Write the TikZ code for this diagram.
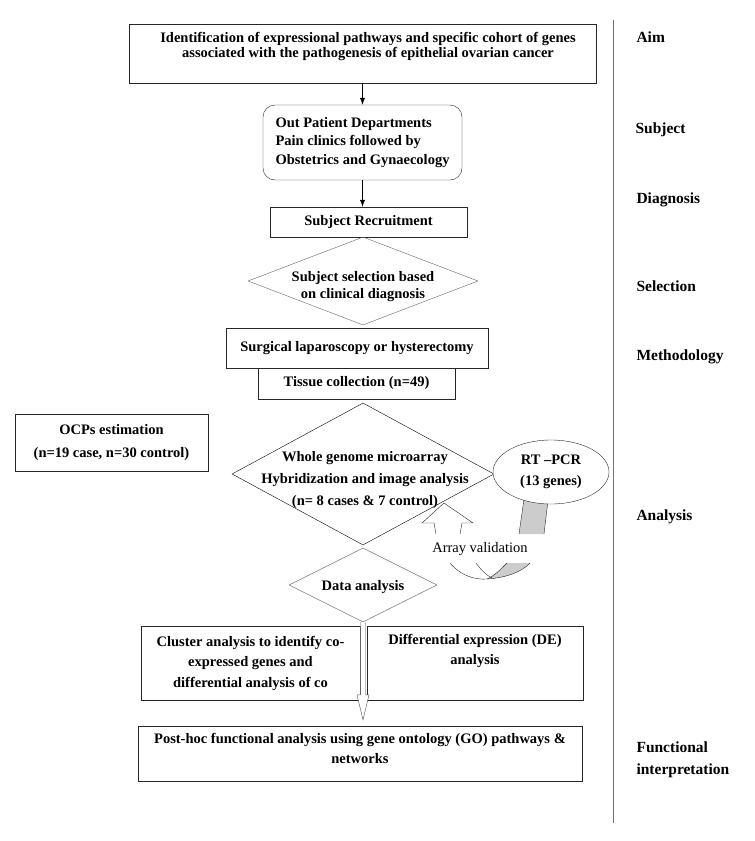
\documentclass[tikz,border=0pt]{standalone}
\usepackage{fontspec}
\setmainfont{Liberation Serif}
\usetikzlibrary{arrows.meta,shapes.geometric,calc,backgrounds}

\begin{document}
\begin{tikzpicture}[x=1pt,y=-1pt,
  every node/.style={font=\fontsize{14.5}{18}\selectfont\bfseries},
  box/.style={draw=black!85,rectangle,inner sep=0pt},
  dia/.style={draw,diamond,inner sep=0pt},
  lbl/.style={anchor=west,align=left,font=\fontsize{15.5}{21.5}\selectfont\bfseries},
  arr/.style={-{Latex[length=7pt,width=5pt]},thin}]
\useasboundingbox (0,0) rectangle (755,841);
% flow column
\node[box,minimum width=467pt,minimum height=59pt] (aim) at (362.5,53.5) {};
\node[align=center,font=\fontsize{14.5}{15.5}\selectfont\bfseries] (aimtxt) at (368,46.5)
  {Identification of expressional pathways and specific cohort of genes\\associated with the pathogenesis of epithelial ovarian cancer};
\node[box,rounded corners=12pt,minimum width=199pt,minimum height=75pt,align=left,
  font=\fontsize{14.5}{18.5}\selectfont\bfseries] (opd) at (362.5,142.5)
  {Out Patient Departments\\Pain clinics followed by\\Obstetrics and Gynaecology};
\node[box,minimum width=197pt,minimum height=30pt] (rec) at (368.5,222) {Subject Recruitment};
\node[dia,draw=black!60,minimum width=230pt,minimum height=88pt] (sel) at (363,281) {};
\node[align=center,font=\fontsize{14.5}{17}\selectfont\bfseries] (seltxt) at (363,287)
  {Subject selection based\\on clinical diagnosis};
\node[box,minimum width=262pt,minimum height=40pt] (surg) at (357,348) {Surgical laparoscopy or hysterectomy};
\node[box,minimum width=197pt,minimum height=31pt] (tis) at (356.5,383.5) {Tissue collection (n=49)};
\node[box,minimum width=193pt,minimum height=57pt,align=center,
  font=\fontsize{14.5}{23}\selectfont\bfseries] (ocp) at (111.5,442.5)
  {OCPs estimation\\(n=19 case, n=30 control)};
\node[dia,draw=black,minimum width=262pt,minimum height=142pt] (mic) at (363,474) {};
\node[align=center,font=\fontsize{14.5}{22}\selectfont\bfseries] (mictxt) at (365,480)
  {Whole genome microarray\\Hybridization and image analysis\\(n= 8 cases \& 7 control)};
\node[ellipse,draw=black!85,fill=white,minimum width=116pt,minimum height=64pt,inner sep=0pt,
  align=center,font=\fontsize{14.5}{21}\selectfont\bfseries] (rt) at (551,472) {RT --PCR\\(13 genes)};
\node[dia,draw=black!60,minimum width=148pt,minimum height=74pt] (dana) at (363,585) {};
\node (datxt) at (363,587) {Data analysis};
\node[box,minimum width=219pt,minimum height=74pt,align=center,
  font=\fontsize{14.5}{20.5}\selectfont\bfseries] (clu) at (250.5,663)
  {Cluster analysis to identify co-\\expressed genes and\\differential analysis of co};
\node[box,minimum width=216pt,minimum height=74pt] (de) at (475,663) {};
\node[align=center,font=\fontsize{14.5}{20.5}\selectfont\bfseries] (detxt) at (475,651)
  {Differential expression (DE)\\analysis};
\node[box,minimum width=444pt,minimum height=55pt] (post) at (360,753.5) {};
\node[align=center,font=\fontsize{14.5}{20}\selectfont\bfseries] (posttxt) at (360,748)
  {Post-hoc functional analysis using gene ontology (GO) pathways \&\\networks};
% connectors
\draw[arr] (aim) -- (opd);
\draw[arr] (opd.south) -- (opd.south |- rec.north);
\coordinate (tip) at ($(dana.south |- post.north)+(0,-6)$);
\draw[black!70,fill=white] ($(dana.south)+(-2.5,0)$) -- ($(tip)+(-2.5,-25)$) -- ($(tip)+(-6,-25)$)
  -- (tip) -- ($(tip)+(6,-25)$) -- ($(tip)+(2.5,-25)$) -- ($(dana.south)+(2.5,0)$);
% array validation
\begin{scope}[on background layer]
\fill[black!20] (525,492) -- (519,534) -- (544,534) -- (549,492) -- cycle;
\draw[black!85] (525,492) -- (519,534) (549,492) -- (544,534);
\end{scope}
\draw[black!85,fill=white] (436,534) -- (434,523) -- (422,523) -- (444,503) -- (473,523) -- (462,523) -- (460,534);
\fill[black!20] (507,563) .. controls (500,570) and (494,576) .. (487,579)
  .. controls (505,578) and (522,572) .. (530,563) -- cycle;
\draw[black!85] (450,563) .. controls (460,575) and (474,580) .. (487,579)
  .. controls (505,578) and (522,572) .. (530,563);
\draw[black!85] (476,563) .. controls (481,570) and (486,575) .. (492,578);
\draw[black!85] (507,563) .. controls (500,570) and (494,576) .. (487,579);
\node[font=\fontsize{14.5}{18}\selectfont\mdseries] (val) at (480,549) {Array validation};
% stage column
\draw[black!55,semithick] (613,20) -- (613,823);
\node[lbl] (laim) at (633,37) {Aim};
\node[lbl] (lsub) at (632,130) {Subject};
\node[lbl] (ldia) at (633,200) {Diagnosis};
\node[lbl] (lsel) at (633,286) {Selection};
\node[lbl] (lmet) at (633,357) {Methodology};
\node[lbl] (lana) at (633,517) {Analysis};
\node[lbl] (lfun) at (633,760) {Functional\\interpretation};
\end{tikzpicture}
\end{document}
